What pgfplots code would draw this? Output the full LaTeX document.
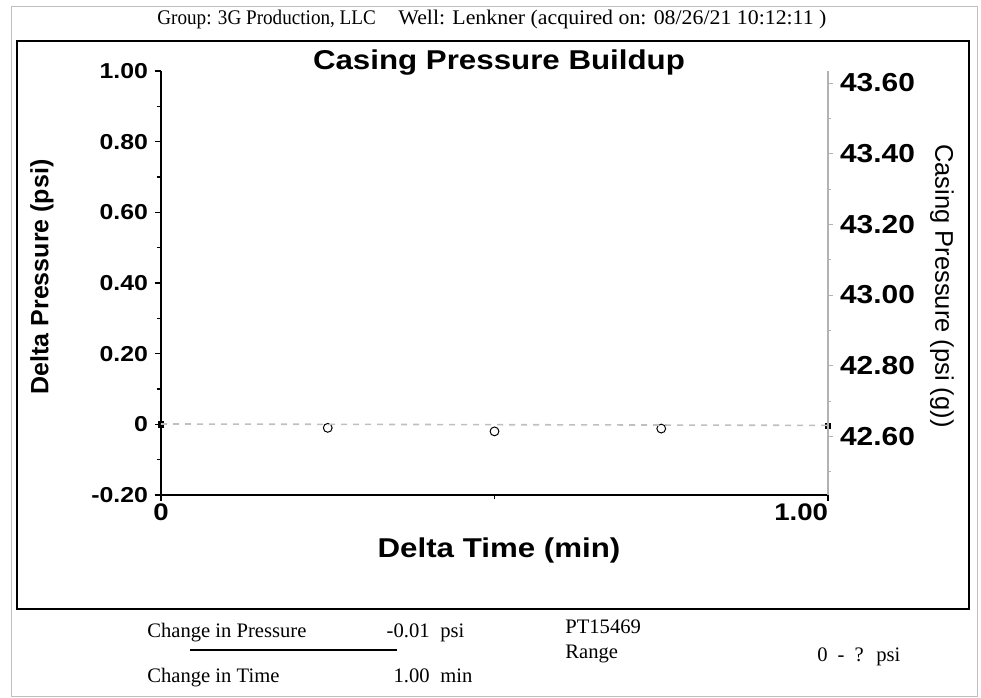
\documentclass[border=0pt]{standalone}
\usepackage{fontspec}
\usepackage{pgfplots}
\pgfplotsset{compat=1.18}
\setmainfont{Liberation Serif}
\newfontfamily\serifC[FakeStretch=0.92]{Liberation Serif}
\newfontfamily\serifW[FakeStretch=1.05]{Liberation Serif}
\newfontfamily\sansS[FakeStretch=1.15]{Liberation Sans}
\newfontfamily\sansN{Liberation Sans}
\newcommand\tickfont{\sansS\bfseries\fontsize{10.8}{12}\selectfont}
\newcommand\bigtickfont{\sansS\bfseries\fontsize{13}{15}\selectfont}
\newcommand\xtickfont{\sansS\bfseries\fontsize{12}{14}\selectfont}
\begin{document}
\begin{tikzpicture}
  \begin{scope}[x=0.5pt,y=0.5pt]
  \path[use as bounding box] (0,0) rectangle (981,697);
  % frames
  \draw[gray!50, line width=0.4pt] (11,1) rectangle (977,691);
  \draw[black, line width=0.8pt] (17,88) rectangle (969,656);
  % header
  \node[anchor=base west, inner sep=0, font=\serifC\fontsize{10.4}{12}\selectfont] at (157,672) {Group: 3G Production, LLC};
  \node[anchor=base west, inner sep=0, font=\serifW\fontsize{10.4}{12}\selectfont] at (398,672) {Well: Lenkner (acquired on: 08/26/21 10:12:11 )};
  % title and labels
  \node[anchor=base, inner sep=0, font=\sansS\bfseries\fontsize{13.6}{15}\selectfont] at (499,627) {Casing Pressure Buildup};
  \node[anchor=base, inner sep=0, font=\sansS\bfseries\fontsize{13.6}{15}\selectfont] at (499,139) {Delta Time (min)};
  \node[rotate=90, inner sep=0, font=\sansN\bfseries\fontsize{12.5}{14}\selectfont] at (42,420) {Delta Pressure (psi)};
  \node[rotate=-90, inner sep=0, font=\sansN\fontsize{12.75}{14}\selectfont] at (942,411) {Casing Pressure (psi (g))};

  % summary block
  \begin{scope}[every node/.style={inner sep=0, font=\fontsize{10.3}{12}\selectfont}]
    \node[anchor=base west] at (147,60) {Change in Pressure};
    \node[anchor=base east] at (430,60) {-0.01};
    \node[anchor=base west] at (440,60) {psi};
    \draw[black, line width=1.2pt] (190,47) -- (397,47);
    \node[anchor=base west] at (147,15) {Change in Time};
    \node[anchor=base east] at (430,15) {1.00};
    \node[anchor=base west] at (440,15) {min};
    \node[anchor=base west] at (565,63) {PT15469};
    \node[anchor=base west] at (565,39) {Range};
    \node[anchor=base west] at (817,36) {0\hspace{5pt}-\hspace{5pt}?};
    \node[anchor=base west] at (876,36) {psi};
  \end{scope}
  \end{scope}

  % left axis: delta pressure
  \begin{axis}[
      at={(80.5pt,101pt)}, anchor=south west,
      scale only axis, width=333.5pt, height=212pt,
      xmin=0, xmax=1, ymin=-0.2, ymax=1.0,
      axis lines*=left,
      axis line style={black, line width=0.8pt},
      xtick={0,1}, xticklabels={0,\llap{1.00}},
      minor xtick={0.5},
      ytick={-0.2,0,0.2,0.4,0.6,0.8,1.0},
      yticklabels={-0.20,0,0.20,0.40,0.60,0.80,1.00},
      minor ytick={-0.1,0.1,0.3,0.5,0.7,0.9},
      tick align=outside,
      major tick length=3pt, minor tick length=2pt,
      tick style={black, line width=0.6pt},
      yticklabel style={font=\tickfont},
      xticklabel style={font=\xtickfont, yshift=2pt},
      clip=false,
    ]
    \addplot[only marks, mark=o, mark size=2.2pt, mark options={black, line width=0.5pt}]
    coordinates {(0.25,-0.010) (0.5,-0.020) (0.75,-0.012)};
    \addplot[only marks, mark=square*, mark size=1.3pt, black]
    coordinates {(0,0) (1,-0.005)};
  \end{axis}

  % right axis: casing pressure
  \begin{axis}[
      at={(80.5pt,101pt)}, anchor=south west,
      scale only axis, width=333.5pt, height=212pt,
      xmin=0, xmax=1, ymin=42.434, ymax=43.634,
      axis x line=none, axis y line*=right,
      axis line style={gray!60, line width=0.6pt},
      ytick={42.6,42.8,43.0,43.2,43.4,43.6},
      yticklabels={42.60,42.80,43.00,43.20,43.40,43.60},
      minor ytick={42.5,42.7,42.9,43.1,43.3,43.5},
      tick align=outside,
      major tick length=2.5pt, minor tick length=1.5pt,
      tick style={gray!60, line width=0.5pt},
      yticklabel style={font=\bigtickfont},
      clip=false,
    ]
    \addplot[gray!50, dashed, line width=0.8pt]
    coordinates {(0,42.635) (0.25,42.634) (0.5,42.633) (0.75,42.632) (1,42.631)};
  \end{axis}
\end{tikzpicture}
\end{document}
